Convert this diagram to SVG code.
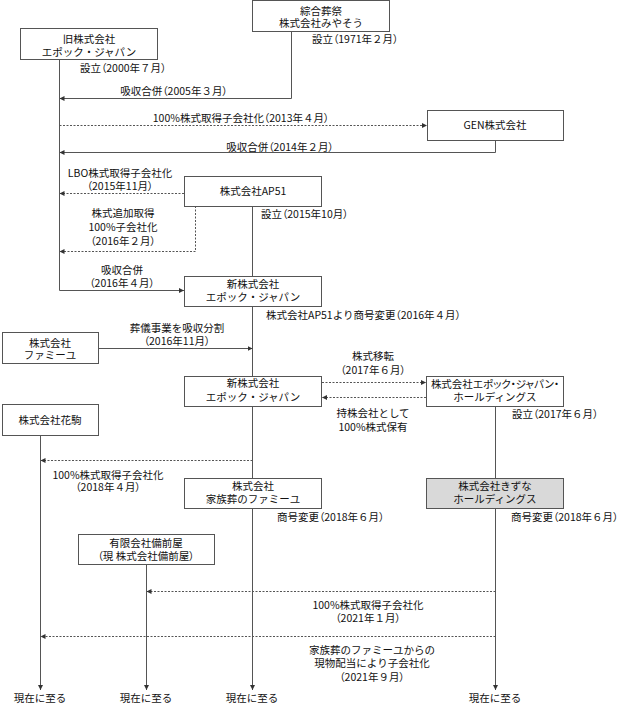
<svg xmlns="http://www.w3.org/2000/svg" width="620" height="704" viewBox="0 0 620 704">
<style>
text{font-family:"Noto Sans CJK JP","Noto Sans",sans-serif;font-size:10.5px;fill:#111;}
.p{font-feature-settings:"palt";}
.c{text-anchor:middle;}
.box{fill:#fff;stroke:#555;stroke-width:1;}
.gray{fill:#d9d9d9;}
.ln{fill:none;stroke:#555;stroke-width:1;}
.arr{marker-end:url(#ah);}
.dash{stroke-dasharray:2,1.5;}
</style>
<defs>
<marker id="ah" markerUnits="userSpaceOnUse" markerWidth="5" markerHeight="5" refX="5" refY="2.5" orient="auto">
<path d="M0,0 L5,2.5 L0,5 z" fill="#333"/>
</marker>
</defs>
<rect width="620" height="704" fill="#fff"/>
<g id="connectors">
<path class="ln arr" d="M291.5,31 V98.5 H59.5"/>
<path class="ln arr" d="M59.5,59 V290.5 H184"/>
<path class="ln arr dash" d="M59.5,125.5 H427"/>
<path class="ln arr" d="M495.5,140 V152.5 H59.5"/>
<path class="ln arr dash" d="M184,193.5 H59.5"/>
<path class="ln arr dash" d="M195.5,206 V251.5 H59.5"/>
<path class="ln" d="M252.5,206 V276"/>
<path class="ln" d="M252.5,306 V376"/>
<path class="ln arr" d="M98,348.5 H252.5"/>
<path class="ln" d="M252.5,406 V478"/>
<path class="ln arr" d="M252.5,508 V690"/>
<path class="ln arr dash" d="M322,382.5 H426"/>
<path class="ln arr dash" d="M426,397.5 H322"/>
<path class="ln" d="M495.5,406 V478"/>
<path class="ln arr" d="M495.5,508 V690"/>
<path class="ln arr" d="M40.5,435 V690"/>
<path class="ln arr dash" d="M252.5,460.5 H40.5"/>
<path class="ln arr" d="M146.5,564 V690"/>
<path class="ln arr dash" d="M495.5,591.5 H146.5"/>
<path class="ln arr dash" d="M495.5,636.5 H40.5"/>
</g>
<g id="labels">
<text x="312" y="43">設立<tspan class="p">（</tspan>1971年２月<tspan class="p">）</tspan></text>
<text x="80" y="72">設立<tspan class="p">（</tspan>2000年７月<tspan class="p">）</tspan></text>
<text x="174" y="95" class="c">吸収合併<tspan class="p">（</tspan>2005年３月<tspan class="p">）</tspan></text>
<text x="241" y="122" class="c">100%株式取得子会社化<tspan class="p">（</tspan>2013年４月<tspan class="p">）</tspan></text>
<text x="280" y="151" class="c">吸収合併<tspan class="p">（</tspan>2014年２月<tspan class="p">）</tspan></text>
<text x="120" y="177" class="c">LBO株式取得子会社化</text>
<text x="120" y="190" class="c"><tspan class="p">（</tspan>2015年11月<tspan class="p">）</tspan></text>
<text x="123" y="217" class="c">株式追加取得</text>
<text x="123" y="231" class="c">100%子会社化</text>
<text x="123" y="245" class="c"><tspan class="p">（</tspan>2016年２月<tspan class="p">）</tspan></text>
<text x="261" y="218">設立<tspan class="p">（</tspan>2015年10月<tspan class="p">）</tspan></text>
<text x="122" y="274" class="c">吸収合併</text>
<text x="122" y="287" class="c"><tspan class="p">（</tspan>2016年４月<tspan class="p">）</tspan></text>
<text x="266" y="319">株式会社AP51より商号変更<tspan class="p">（</tspan>2016年４月<tspan class="p">）</tspan></text>
<text x="177" y="332" class="c">葬儀事業を吸収分割</text>
<text x="177" y="345" class="c"><tspan class="p">（</tspan>2016年11月<tspan class="p">）</tspan></text>
<text x="373" y="360" class="c">株式移転</text>
<text x="373" y="374" class="c"><tspan class="p">（</tspan>2017年６月<tspan class="p">）</tspan></text>
<text x="373" y="417" class="c">持株会社として</text>
<text x="373" y="431" class="c">100%株式保有</text>
<text x="512" y="418">設立<tspan class="p">（</tspan>2017年６月<tspan class="p">）</tspan></text>
<text x="108" y="479" class="c">100%株式取得子会社化</text>
<text x="108" y="491" class="c"><tspan class="p">（</tspan>2018年４月<tspan class="p">）</tspan></text>
<text x="277" y="521">商号変更<tspan class="p">（</tspan>2018年６月<tspan class="p">）</tspan></text>
<text x="511" y="521">商号変更<tspan class="p">（</tspan>2018年６月<tspan class="p">）</tspan></text>
<text x="368" y="609" class="c">100%株式取得子会社化</text>
<text x="368" y="622" class="c"><tspan class="p">（</tspan>2021年１月<tspan class="p">）</tspan></text>
<text x="372" y="654" class="c">家族葬のファミーユからの</text>
<text x="372" y="667" class="c">現物配当により子会社化</text>
<text x="372" y="681" class="c"><tspan class="p">（</tspan>2021年９月<tspan class="p">）</tspan></text>
<text x="40" y="702" class="c">現在に至る</text>
<text x="146" y="702" class="c">現在に至る</text>
<text x="252" y="702" class="c">現在に至る</text>
<text x="495" y="702" class="c">現在に至る</text>
</g>
<g id="miyasou">
<rect class="box" x="252.5" y="0.5" width="137" height="31"/>
<text x="321" y="15" class="c">綜合葬祭</text>
<text x="321" y="27" class="c">株式会社みやそう</text>
</g>
<g id="old-epoch">
<rect class="box" x="20.5" y="28.5" width="137" height="31"/>
<text x="89" y="43" class="c">旧株式会社</text>
<text x="89" y="56" class="c">エポック・ジャパン</text>
</g>
<g id="gen">
<rect class="box" x="427.5" y="110.5" width="136" height="30"/>
<text x="495" y="129" class="c">GEN株式会社</text>
</g>
<g id="ap51">
<rect class="box" x="184.5" y="176.5" width="137" height="30"/>
<text x="253" y="195" class="c">株式会社AP51</text>
</g>
<g id="new-epoch-1">
<rect class="box" x="184.5" y="276.5" width="137" height="30"/>
<text x="253" y="288" class="c">新株式会社</text>
<text x="253" y="301" class="c">エポック・ジャパン</text>
</g>
<g id="famille">
<rect class="box" x="2.5" y="332.5" width="96" height="31"/>
<text x="50" y="347" class="c">株式会社</text>
<text x="50" y="359" class="c">ファミーユ</text>
</g>
<g id="new-epoch-2">
<rect class="box" x="184.5" y="376.5" width="137" height="30"/>
<text x="253" y="387" class="c">新株式会社</text>
<text x="253" y="401" class="c">エポック・ジャパン</text>
</g>
<g id="epoch-hd">
<rect class="box" x="426.5" y="376.5" width="137" height="30"/>
<text x="495" y="388" class="c p">株式会社エポック・ジャパン・</text>
<text x="495" y="401" class="c">ホールディングス</text>
</g>
<g id="hanakoma">
<rect class="box" x="2.5" y="404.5" width="96" height="31"/>
<text x="50" y="424" class="c">株式会社花駒</text>
</g>
<g id="kazokusou">
<rect class="box" x="184.5" y="478.5" width="137" height="30"/>
<text x="253" y="490" class="c">株式会社</text>
<text x="253" y="503" class="c">家族葬のファミーユ</text>
</g>
<g id="kizuna">
<rect class="box gray" x="426.5" y="478.5" width="137" height="30"/>
<text x="495" y="490" class="c">株式会社きずな</text>
<text x="495" y="503" class="c">ホールディングス</text>
</g>
<g id="bizenya">
<rect class="box" x="78.5" y="534.5" width="136" height="30"/>
<text x="146" y="547" class="c">有限会社備前屋</text>
<text x="146" y="560" class="c"><tspan class="p">（</tspan>現 株式会社備前屋<tspan class="p">）</tspan></text>
</g>
</svg>
